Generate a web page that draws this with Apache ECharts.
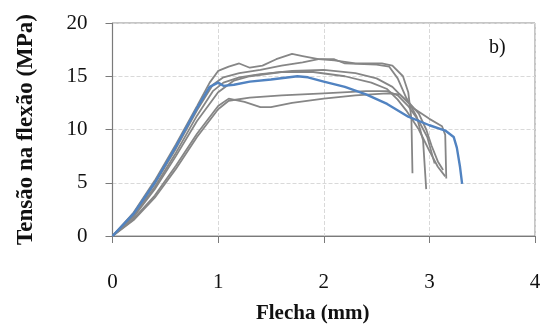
<!DOCTYPE html>
<html><head><meta charset="utf-8">
<script src="https://cdn.jsdelivr.net/npm/echarts@6/dist/echarts.min.js"></script>
<style>html,body{margin:0;padding:0;background:#fff}#c{width:545px;height:329px}</style>
</head><body><div id="c"></div>
<script>
const xTicks = [0, 1, 2, 3, 4];
const yTicks = [0, 5, 10, 15, 20];
const xTitle = 'Flecha (mm)';
const yTitle = 'Tensão na flexão (MPa)';
const panelLabel = 'b)';

const g1 = [[0,0],[0.2,2.2],[0.4,5.2],[0.6,8.6],[0.8,12.2],[0.92,14.4],[1.0,15.5],[1.1,15.9],[1.2,16.2],[1.3,15.8],[1.42,16.0],[1.55,16.6],[1.7,17.1],[1.8,16.9],[1.95,16.6],[2.1,16.5],[2.3,16.2],[2.55,16.2],[2.65,16.0],[2.75,15.0],[2.8,13.5],[2.83,11.0],[2.84,5.9]];
const g2 = [[0,0],[0.2,2.0],[0.4,4.9],[0.6,8.2],[0.8,11.8],[0.95,14.2],[1.05,14.9],[1.2,15.3],[1.4,15.6],[1.6,16.0],[1.8,16.3],[1.95,16.6],[2.1,16.6],[2.2,16.2],[2.5,16.1],[2.62,15.9],[2.7,14.8],[2.78,13.0],[2.88,11.2],[2.94,9.0],[2.97,4.4]];
const g3 = [[0,0],[0.2,1.9],[0.4,4.6],[0.6,7.8],[0.8,11.3],[0.95,13.6],[1.05,14.4],[1.2,14.9],[1.4,15.2],[1.7,15.5],[2.0,15.6],[2.3,15.3],[2.5,14.8],[2.65,14.0],[2.75,13.0],[2.85,12.0],[3.0,11.0],[3.12,10.3],[3.15,9.5],[3.16,5.4]];
const g4 = [[0,0],[0.2,1.8],[0.4,4.4],[0.6,7.5],[0.8,10.8],[1.0,13.5],[1.15,14.6],[1.3,15.0],[1.6,15.4],[1.9,15.4],[2.2,15.0],[2.45,14.4],[2.6,13.8],[2.7,12.8],[2.78,11.8],[2.9,10.0],[3.0,8.0],[3.08,6.5],[3.15,5.6]];
const g5 = [[0,0],[0.2,1.6],[0.4,3.8],[0.6,6.6],[0.8,9.6],[1.0,12.2],[1.1,12.9],[1.25,12.6],[1.4,12.1],[1.5,12.1],[1.7,12.5],[2.0,12.9],[2.3,13.2],[2.6,13.4],[2.72,13.3],[2.8,12.6],[2.9,11.5],[2.97,10.0],[3.02,8.5],[3.08,7.0],[3.13,6.2]];
const g6 = [[0,0],[0.2,1.5],[0.4,3.6],[0.6,6.3],[0.8,9.3],[1.0,11.9],[1.1,12.7],[1.3,13.0],[1.6,13.2],[2.0,13.4],[2.4,13.6],[2.6,13.6],[2.7,13.2],[2.8,12.2],[2.9,10.8],[2.98,9.3],[3.03,7.5],[3.05,6.8]];
const blue = [[0,0],[0.2,2.1],[0.4,5.0],[0.6,8.4],[0.8,12.0],[0.92,14.0],[1.0,14.4],[1.05,14.1],[1.15,14.2],[1.3,14.5],[1.5,14.7],[1.75,15.0],[1.85,14.9],[2.0,14.5],[2.2,14.0],[2.4,13.3],[2.6,12.4],[2.8,11.2],[3.0,10.4],[3.15,9.9],[3.23,9.3],[3.26,8.3],[3.29,6.5],[3.31,4.9]];

const grays = [g1, g2, g3, g4, g5, g6];
const serif = 'Liberation Serif';

const series = grays.map(d => ({
  type: 'line', data: d, showSymbol: false, symbol: 'none',
  lineStyle: { color: '#868686', width: 1.8 }, silent: true, animation: false
}));
series.push({
  type: 'line', data: blue, showSymbol: false, symbol: 'none',
  lineStyle: { color: '#5183c1', width: 2.4 }, silent: true, animation: false, z: 5
});

const chart = echarts.init(document.getElementById('c'), null, { renderer: 'canvas' });
chart.setOption({
  animation: false,
  backgroundColor: '#fff',
  grid: { left: 112.5, right: 10, top: 23, bottom: 90, show: true, borderColor: '#8c8c8c', borderWidth: 1 },
  xAxis: {
    type: 'value', min: xTicks[0], max: xTicks[xTicks.length - 1], interval: 1,
    name: xTitle, nameLocation: 'middle', nameGap: 67,
    nameTextStyle: { fontFamily: serif, fontWeight: 'bold', fontSize: 21, color: '#111', padding: [0, 22, 0, 0] },
    axisLine: { lineStyle: { color: '#7a7a7a', width: 1.2 } },
    axisTick: { show: true, inside: false, length: 7, lineStyle: { color: '#7a7a7a' } },
    axisLabel: { margin: 36, fontFamily: serif, fontSize: 21, color: '#111' },
    splitLine: { show: true, lineStyle: { color: '#d9d9d9', type: 'dashed' } }
  },
  yAxis: {
    type: 'value', min: yTicks[0], max: yTicks[yTicks.length - 1], interval: 5,
    name: yTitle, nameLocation: 'middle', nameGap: 75, nameRotate: 90,
    nameTextStyle: { fontFamily: serif, fontWeight: 'bold', fontSize: 23, color: '#111' },
    axisLine: { show: true, lineStyle: { color: '#7a7a7a', width: 1.2 } },
    axisTick: { show: true, inside: false, length: 7, lineStyle: { color: '#7a7a7a' } },
    axisLabel: { margin: 25, fontFamily: serif, fontSize: 21, color: '#111' },
    splitLine: { show: true, lineStyle: { color: '#d9d9d9', type: 'dashed' } }
  },
  graphic: [{ type: 'text', left: 489, top: 38, style: { text: panelLabel, font: '20px "Liberation Serif"', fill: '#111' } }],
  series: series
});
</script></body></html>
